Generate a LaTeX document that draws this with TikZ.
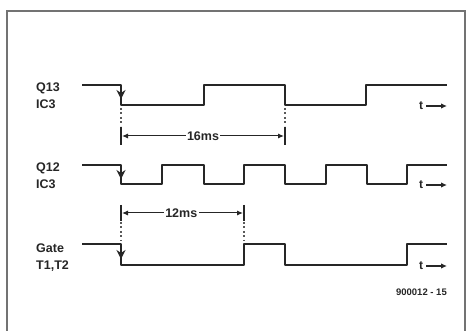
\documentclass[tikz,border=0pt]{standalone}
\usepackage{fontspec}
\setmainfont{Liberation Sans}
\usetikzlibrary{arrows.meta}
\begin{document}
\begin{tikzpicture}[x=1pt,y=-1pt,
  wave/.style={line width=2.6pt, line join=round, color=black!85},
  lbl/.style={anchor=base west, inner sep=0pt, font=\bfseries\fontsize{12.5}{15}\selectfont, text=black!85},
  tlbl/.style={anchor=base west, inner sep=0pt, font=\bfseries\fontsize{12}{14}\selectfont, text=black!85},
  dimtxt/.style={fill=white, inner sep=1.5pt, font=\bfseries\fontsize{12.5}{14}\selectfont, text=black!85},
  dimline/.style={line width=1pt, color=black!85, {Latex[length=6pt,width=5pt]}-{Latex[length=6pt,width=5pt]}, shorten <=1pt, shorten >=1pt},
  tick/.style={line width=1.6pt, color=black!85},
  dots/.style={line width=1.2pt, color=black!65, dash pattern=on 2pt off 2.5pt},
  edgearrow/.style={line width=1.4pt, color=black!85, -{Stealth[length=9pt,width=9pt]}},
  tarrow/.style={line width=1.6pt, color=black!85, -{Latex[length=6pt,width=5.5pt]}}]
\useasboundingbox (0,0) rectangle (469,331);
\fill[white] (0,0) rectangle (469,331);
% frame
\draw[line width=1.4pt, color=black!55] (7,332) -- (7,11) -- (465,11) -- (465,332);

% labels
\node[lbl] (q13a) at (36,92) {Q13};
\node[lbl] (q13b) at (36,109) {IC3};
\node[lbl] (q12a) at (36,172) {Q12};
\node[lbl] (q12b) at (36,189) {IC3};
\node[lbl] (gta) at (36,253) {Gate};
\node[lbl] (gtb) at (36,270) {T1,T2};

% waveforms
\draw[wave] (82,85) -- (121,85) -- (121,105) -- (204,105) -- (204,85) -- (285,85) -- (285,105) -- (366,105) -- (366,85) -- (447,85);
\draw[wave] (82,165) -- (121,165) -- (121,184) -- (162,184) -- (162,165) -- (204,165) -- (204,184) -- (244,184) -- (244,165) -- (285,165) -- (285,184) -- (326,184) -- (326,165) -- (367,165) -- (367,184) -- (407,184) -- (407,165) -- (447,165);
\draw[wave] (82,244) -- (121,244) -- (121,265) -- (244,265) -- (244,244) -- (285,244) -- (285,265) -- (407,265) -- (407,244) -- (447,244);

% falling edge arrows
\coordinate (ea1) at (121,86); \coordinate (eb1) at (121,99);
\coordinate (ea2) at (121,166); \coordinate (eb2) at (121,179);
\coordinate (ea3) at (121,245); \coordinate (eb3) at (121,259);
\draw[edgearrow] (ea1) -- (eb1);
\draw[edgearrow] (ea2) -- (eb2);
\draw[edgearrow] (ea3) -- (eb3);

% t arrows
\node[tlbl] (t1) at (419,110) {t};
\node[tlbl] (t2) at (419,189) {t};
\node[tlbl] (t3) at (419,270) {t};
\coordinate (t1e) at (447,106);
\coordinate (t2e) at (447,185);
\coordinate (t3e) at (447,266);
\draw[tarrow] (t1.east |- t1e) ++(3,0) -- (t1e);
\draw[tarrow] (t2.east |- t2e) ++(3,0) -- (t2e);
\draw[tarrow] (t3.east |- t3e) ++(3,0) -- (t3e);

% 16ms dimension
\coordinate (d1a) at (121,108); \coordinate (d1b) at (121,126);
\coordinate (d1c) at (285,108); \coordinate (d1d) at (285,126);
\draw[dots] (d1a) -- (d1b);
\draw[dots] (d1c) -- (d1d);
\coordinate (k1a) at (121,127); \coordinate (k1b) at (121,145);
\coordinate (k1c) at (285,127); \coordinate (k1d) at (285,145);
\draw[tick] (k1a) -- (k1b);
\draw[tick] (k1c) -- (k1d);
\coordinate (m1a) at (121,136); \coordinate (m1b) at (285,136);
\draw[dimline] (m1a) -- (m1b) node[dimtxt, midway] (ms16) {16ms};

% 12ms dimension
\coordinate (k2a) at (121,205); \coordinate (k2b) at (121,221);
\coordinate (k2c) at (244,205); \coordinate (k2d) at (244,221);
\draw[tick] (k2a) -- (k2b);
\draw[tick] (k2c) -- (k2d);
\coordinate (d2a) at (121,222); \coordinate (d2b) at (121,241);
\coordinate (d2c) at (244,222); \coordinate (d2d) at (244,241);
\draw[dots] (d2a) -- (d2b);
\draw[dots] (d2c) -- (d2d);
\coordinate (m2a) at (121,213); \coordinate (m2b) at (244,213);
\draw[dimline] (m2a) -- (m2b) node[dimtxt, pos=0.49] (ms12) {12ms};

% figure number
\node[anchor=base east, inner sep=0pt, font=\bfseries\fontsize{9.5}{11}\selectfont, text=black!85] (fig) at (447,296) {900012 - 15};
\end{tikzpicture}
\end{document}
